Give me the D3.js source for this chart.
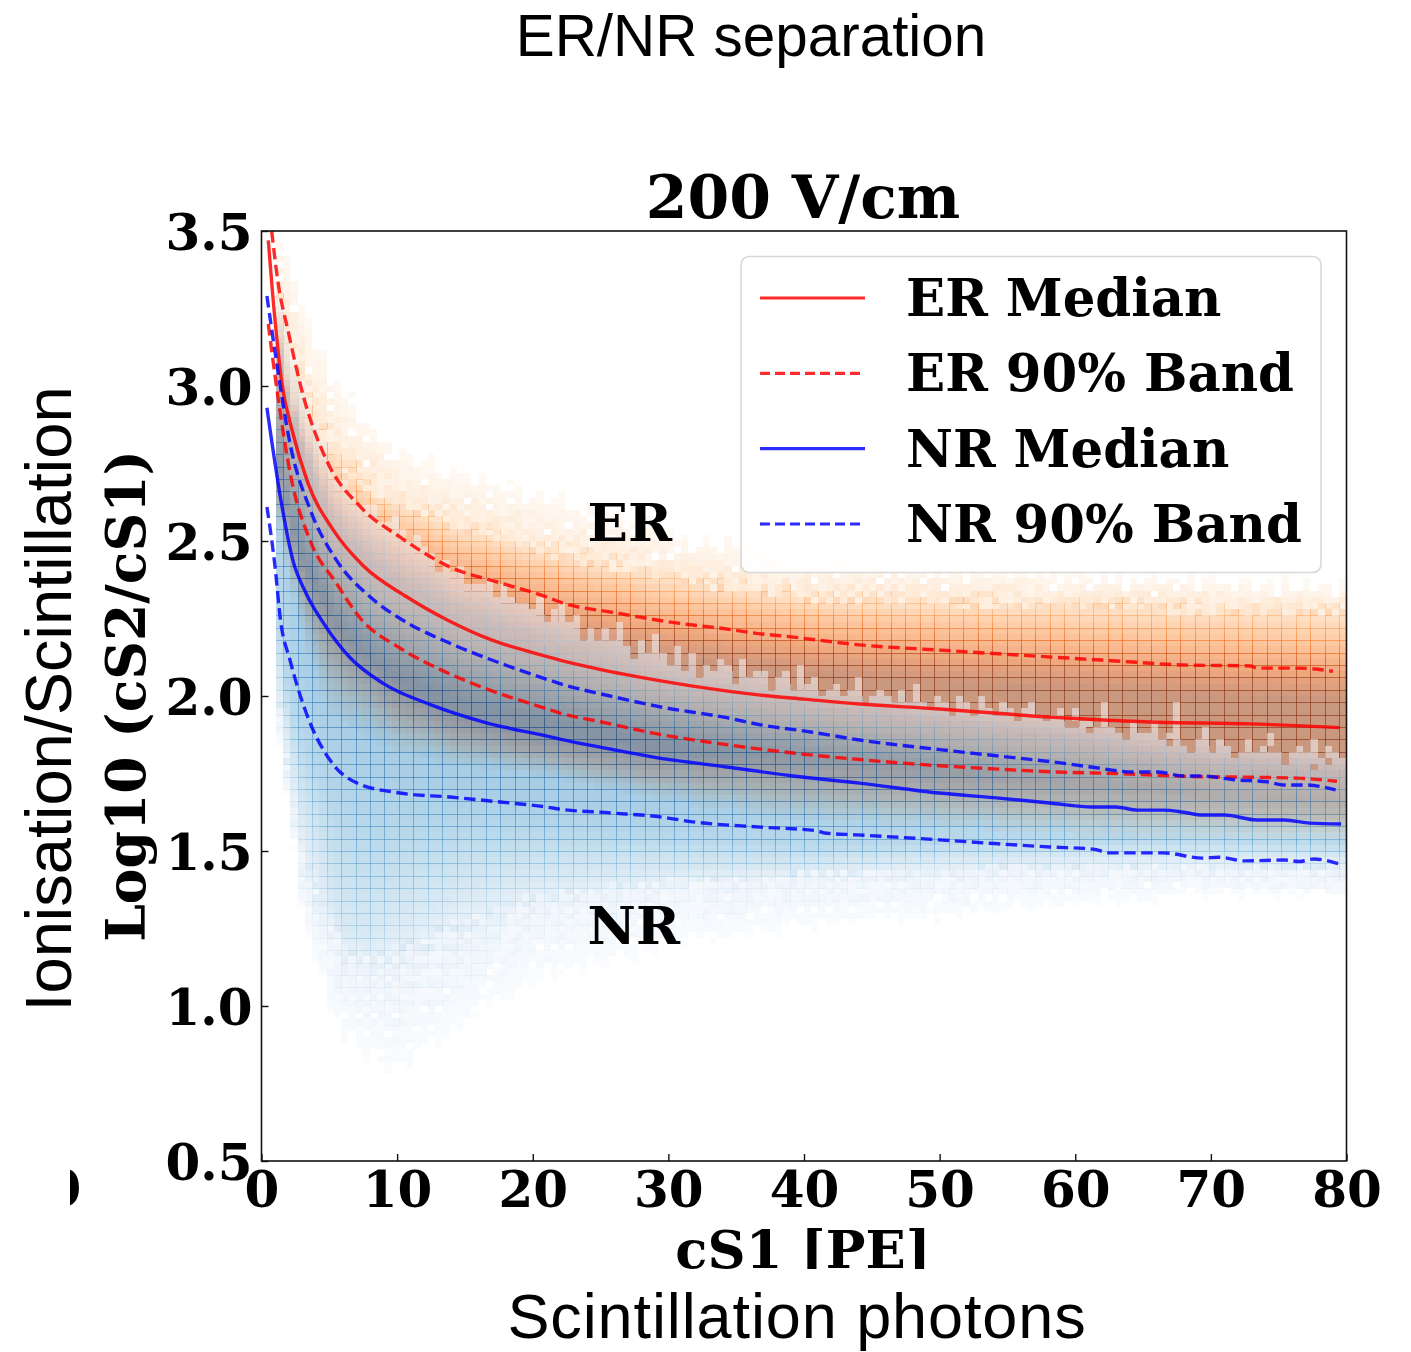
<!DOCTYPE html>
<html><head><meta charset="utf-8">
<style>html,body{margin:0;padding:0;background:#fff}svg{display:block}</style>
<script src="https://cdn.jsdelivr.net/npm/d3@7/dist/d3.min.js"></script></head>
<body><div id="chart"></div>
<script>
// ---- median and band curves: [cS1, log10(cS2/cS1)]
const erMedianX=[0.5,1,1.5,2.3,3.4,5.3,7.5,10.7,13.7,17,20,22,27,31.8,36.8,40,44.1,50,54,58.1,61,65.5,72.9,79.5];
const erMedianY=[3.47,3.21,3.01,2.85,2.69,2.535,2.42,2.32,2.245,2.18,2.14,2.116,2.068,2.032,2.003,1.99,1.974,1.958,1.945,1.932,1.925,1.916,1.91,1.898];
const erUpperX=[0.75,1.2,2,3.1,4.8,7.3,10.2,13.9,17.6,21,22.2,25.9,29.9,34.8,36,39.2,44.1,50,54,58.1,63,68,72.9,73.4,76.4,79];
const erUpperY=[3.5,3.34,3.17,2.965,2.76,2.61,2.513,2.416,2.365,2.32,2.30,2.27,2.24,2.213,2.205,2.19,2.165,2.148,2.137,2.126,2.113,2.10,2.097,2.09,2.09,2.08];
const erLowerX=[0.5,1.1,2.2,3.6,5.5,7.3,10.2,13.2,16.4,21.3,22,25,28.9,34.3,39.2,44.1,50,54,58.4,63,68.7,72.9,76.4,79.3];
const erLowerY=[3.2,3.0,2.70,2.50,2.365,2.25,2.155,2.085,2.026,1.955,1.945,1.917,1.88,1.843,1.816,1.795,1.775,1.765,1.755,1.75,1.74,1.738,1.735,1.725];
const nrUpperX=[0.4,1.1,2.1,3.6,5.5,8,10.4,13.9,17.6,21.3,22,25.7,29.4,34.3,36.8,40.5,44.1,50,54,58.4,61.3,64.3,66,68,69.4,71.7,74.2,75.4,77,79.2];
const nrUpperY=[3.29,3.08,2.815,2.60,2.44,2.32,2.245,2.17,2.106,2.05,2.04,2.0,1.965,1.93,1.907,1.884,1.858,1.827,1.808,1.787,1.77,1.755,1.755,1.742,1.742,1.73,1.723,1.713,1.713,1.697];
const nrMedianX=[0.4,1.4,2.3,3.3,4.5,6.5,9,12.6,16.4,21.3,22,25.7,28.9,34.3,39.2,44.1,50,54,58.1,61.3,63,64.6,66.5,68,69.4,71,73.4,75.4,77.3,79.6];
const nrMedianY=[2.93,2.64,2.44,2.33,2.24,2.125,2.04,1.97,1.916,1.868,1.861,1.829,1.803,1.771,1.742,1.719,1.687,1.672,1.655,1.642,1.642,1.632,1.632,1.625,1.616,1.616,1.60,1.60,1.59,1.587];
const nrLowerX=[0.4,1,1.4,2.1,3.3,5.1,7,10.2,13.9,17.6,21,22,25.7,29.4,31.8,36.8,41,41.5,43.9,50,54,58.1,61.3,62.6,66.5,69.4,70.6,72.5,75.4,76.5,77.6,79.5];
const nrLowerY=[2.61,2.416,2.245,2.116,1.945,1.79,1.72,1.687,1.674,1.658,1.642,1.635,1.623,1.61,1.594,1.577,1.565,1.558,1.552,1.536,1.524,1.513,1.506,1.494,1.494,1.477,1.48,1.468,1.471,1.466,1.474,1.458];

// ---- density contours (y of each shade, per cS1 anchor)
const erAnchors=[0.5,1,2,3,5,6.5,8,10,14,20,30,40,50,60,70,80];
const erEdgeTop=[3.5,3.5,3.4,3.25,3.05,2.95,2.87,2.79,2.72,2.65,2.52,2.45,2.41,2.39,2.37,2.35];
const erPaleTop=[3.45,3.35,3.15,3.0,2.82,2.74,2.68,2.64,2.57,2.49,2.40,2.33,2.32,2.31,2.30,2.29];
const erMidTop=[3.4,3.25,3.0,2.88,2.72,2.65,2.60,2.55,2.48,2.41,2.31,2.255,2.23,2.21,2.19,2.17];
const erCoreTop=[3.3,3.15,2.95,2.8,2.58,2.5,2.44,2.38,2.28,2.2,2.12,2.07,2.04,2.02,2.0,1.98];
const erCoreBot=[2.9,2.8,2.6,2.45,2.3,2.2,2.14,2.05,1.95,1.88,1.82,1.82,1.79,1.77,1.76,1.74];
const erMidBot=[2.8,2.7,2.5,2.32,2.12,2.05,2.0,1.93,1.86,1.81,1.73,1.69,1.66,1.64,1.62,1.6];
const erEdgeBot=[2.7,2.6,2.4,2.2,1.95,1.9,1.86,1.82,1.78,1.75,1.66,1.6,1.58,1.55,1.54,1.53];
const erShades=[0.02,0.5,0.93,0.93,0.47,0.22,0.02];

const nrAnchors=[0.5,1,2,3,4,5,6,8,10,15,20,30,40,50,60,70,80];
const nrEdgeBot=[2.05,1.95,1.65,1.3,1.15,1.0,0.9,0.84,0.79,0.95,1.08,1.2,1.26,1.29,1.33,1.36,1.35];
const nrTailBot=[2.2,2.0,1.7,1.4,1.3,1.2,1.13,1.1,1.1,1.2,1.3,1.38,1.41,1.42,1.43,1.43,1.42];
const nrPaleBot=[2.4,2.15,1.85,1.6,1.5,1.35,1.25,1.22,1.28,1.37,1.41,1.44,1.45,1.47,1.48,1.49,1.48];
const nrMidBot=[2.55,2.35,2.0,1.85,1.76,1.65,1.6,1.55,1.55,1.56,1.56,1.54,1.52,1.53,1.54,1.54,1.53];
const nrCoreBot=[2.7,2.6,2.3,2.1,2.0,1.92,1.88,1.8,1.75,1.7,1.66,1.62,1.6,1.59,1.57,1.55,1.54];
const nrCoreTop=[2.9,2.8,2.6,2.45,2.36,2.28,2.2,2.12,2.06,1.98,1.93,1.85,1.8,1.76,1.72,1.68,1.66];
const nrPaleTop=[3.2,3.1,2.9,2.75,2.62,2.52,2.47,2.38,2.33,2.22,2.16,2.04,1.97,1.92,1.86,1.79,1.76];
const nrEdgeTop=[3.3,3.35,3.15,3.0,2.88,2.75,2.68,2.6,2.55,2.38,2.30,2.13,2.04,1.98,1.93,1.85,1.81];
const nrCorePeak=[0.58,0.58,0.6,0.62,0.63,0.63,0.63,0.63,0.63,0.63,0.63,0.62,0.6,0.57,0.53,0.5,0.48];
const nrOuterShades=[0.015,0.12,0.3,0.48];

// jagged outer edges per histogram column, in bins
const erTopJag=[0,0,0,0,0,0,1,-2,2,-3,1,-1,3,-2,0,2,-1,1,-3,2,0,-2,1,3,-1,-3,2,0,1,-2,3,-1,0,-2,2,1,-3,0,2,-1,1,3,-2,0,-1,2,-3,1,0,2,-2,1,-1,3,0,-2,2,-1,1,-3,0,2,1,-2,3,-1,0,1,-2,2,-1,3,0,-3,1,2,-1,0,-2,1,3,-2,0,2,-1,1,-3,2,0,-1,2,1,-2,3,0,-1,1,-3,2,0,-2,1,3,-1,0,2,-2,1,-1,2,-3,0,3,1,-1,-2,2,0,1,-3,2,-1,0,3,-2,1,0,-1,2,-2,1,3,-1,0,-3,2,1,-2,0,1,-1,3,-2,0,2,-1,1,0,-2,2];
const nrTopJag=[0,0,0,0,0,0,0,0,0,0,0,1,0,-1,0,1,-1,0,1,0,-1,1,0,0,-1,1,0,1,-1,0,0,1,-1,1,0,-1,0,-1,1,-2,0,2,-1,1,-3,0,-2,1,-1,2,-1,-3,1,-1,3,0,-1,2,-2,1,-2,0,-1,1,0,-2,2,-1,0,1,-2,0,1,-1,3,0,1,-2,0,1,-1,0,2,-2,0,1,0,-1,1,-1,2,0,-1,1,0,-2,1,0,-1,2,0,-1,1,0,-2,1,2,0,-1,0,1,-2,1,0,0,-1,3,0,-1,-2,1,-1,0,2,-1,0,5,-1,-2,0,2,-1,1,0,-2,-1,1,-1,0,2,-1,-2,0,1,0,2,-1,1,0,-1,1,0];
const nrBotJag=[0,0,0,0,0,0,0,-1,1,-1,1,-1,1,0,-1,1,0,-1,1,0,-1,1,0,1,-1,0,1,-1,0,-1,1,0,1,0,-1,0,1,-1,0,1,-1,0,0,1,-1,1,0,-1,0,1,0,-1,1,0,-1,1,0,0,-1,1,0,1,-1,0,0,1,0,-1,1,0,0,-1,0,1,0,0,-1,1,0,0,1,-1,0,0,-1,1,0,1,-1,0,0,0,1,-1,0,0,-1,1,0,1,0,-1,0,0,1,0,-1,0,1,0,-1,1,0,0,0,-1,1,0,-1,0,1,0,0,-1,1,0,0,-1,1,0,-1,0,0,1,0,-1,1,0,0,0,-1,1,0,-1,0,0,1];
// isolated cells with no NR wash on top
const nrHolesX=[13.2,15.2,17.4,20.2,59.9,60.9,66.9,74.4,77.6,78.7];
const nrHolesY=[2.406,2.365,2.35,2.285,1.903,1.88,1.842,1.82,1.76,1.78];
// typed weave of fringe shades (0 = empty cell) for the sparsely filled outskirts
const fringeWeave="5270648319562047813694251708362951470386295417036825941760382964157028394617502839461705296381470592683741095628374906152738490615273849061725394806152749360815274936085172";

const xTicks=[0,10,20,30,40,50,60,70,80];
const yTicks=[0.5,1,1.5,2,2.5,3,3.5];
const legendLabels=["ER Median","ER 90% Band","NR Median","NR 90% Band"];
const legendColors=["#ff0000","#ff0000","#0000ff","#0000ff"];
const legendDashed=[false,true,false,true];
const nBinsX=150, nBinsY=150;

const W=1411,H=1352;
const serif="'DejaVu Serif',serif", sans="'Liberation Sans',Arial,sans-serif";
const svg=d3.select("#chart").append("svg").attr("width",W).attr("height",H);
const defs=svg.append("defs");
defs.append("clipPath").attr("id","plot").append("rect").attr("x",261.5).attr("y",231).attr("width",1085).attr("height",930);
defs.append("clipPath").attr("id","stub").append("rect").attr("x",70).attr("y",1160).attr("width",40).attr("height",60);
const blur=defs.append("filter").attr("id","soft").attr("x","0").attr("y","0").attr("width","100%").attr("height","100%");
blur.append("feGaussianBlur").attr("stdDeviation",0.5);

const x=d3.scaleLinear().domain([0,80]).range([261.5,1346.5]);
const y=d3.scaleLinear().domain([0.5,3.5]).range([1161,231]);

// histogram cells
const binX=80/nBinsX, binY=3/nBinsY;
function contourAt(tables,anchors,cx){return tables.map(t=>d3.scaleLinear().domain(anchors).range(t).clamp(true)(cx));}
const erTables=[erEdgeBot,erMidBot,erCoreBot,erCoreTop,erMidTop,erPaleTop,erEdgeTop];
const nrTables=[nrEdgeBot,nrTailBot,nrPaleBot,nrMidBot,nrCoreBot,nrCoreTop,nrPaleTop,nrEdgeTop];
const holes=new Set(nrHolesX.map((hx,k)=>Math.floor(hx/binX)+"_"+Math.floor((nrHolesY[k]-0.5)/binY)));
const weave=(i,j)=>+fringeWeave[(i*37+j*61)%fringeWeave.length]/5;
const jag=(a,i)=>a[i%a.length];
const peakAt=d3.scaleLinear().domain(nrAnchors).range(nrCorePeak).clamp(true);
const erCells=[],nrCells=[];
for(let i=0;i<nBinsX;i++){
  const cx=(i+0.5)*binX;
  if(cx<1.2) continue;
  const er=contourAt(erTables,erAnchors,cx), nr=contourAt(nrTables,nrAnchors,cx);
  const peak=peakAt(cx);
  const erS=d3.scaleLinear().domain(er).range(erShades);
  const nrS=d3.scaleLinear().domain(nr).range([...nrOuterShades,peak-0.06,peak,0.25,0.03]);
  const erTop=er[6]+jag(erTopJag,i)*binY*0.6, erBot=er[0];
  const nrTop=nr[7]+jag(nrTopJag,i)*binY, nrBot=nr[0]+jag(nrBotJag,i)*binY;
  for(let j=0;j<nBinsY;j++){
    const cy=0.5+(j+0.5)*binY;
    if(cy<=erTop&&cy>=erBot){
      let t=Math.max(0.015,erS(cy));
      if(cy>er[3]&&t<0.3){const m=weave(i,j); if(m===0&&t<0.16) t=0; else t=t*(0.55+0.45*m);}
      if(t>0) erCells.push({i,j,t});
    }
    if(cy<=nrTop&&cy>=nrBot&&!holes.has(i+"_"+j)){
      let t=Math.max(0.012,nrS(cy));
      if(cy<nr[3]&&t<0.22){const m=weave(j,i); if(m===0&&t<0.08) t=0; else t=t*(0.5+0.5*m);}
      if(t>0) nrCells.push({i,j,t});
    }
  }
}
const heat=svg.append("g").attr("clip-path","url(#plot)").append("g").attr("filter","url(#soft)");
const cellL=d=>Math.round(x(d.i*binX)), cellR=d=>Math.round(x((d.i+1)*binX));
const cellT=d=>Math.round(y((d.j+1)*binY+0.5)), cellB=d=>Math.round(y(d.j*binY+0.5));
function drawCells(cells,ramp,lineMin,lineGain,lineAlpha){
  const g=heat.append("g").attr("shape-rendering","crispEdges");
  g.selectAll("rect.cell").data(cells).join("rect").attr("class","cell")
    .attr("x",cellL).attr("y",cellT).attr("width",d=>cellR(d)-cellL(d)).attr("height",d=>cellB(d)-cellT(d))
    .attr("fill",d=>ramp(d.t)).attr("fill-opacity",0.5);
  // overdrawn cell edges show as the fine mesh
  g.selectAll("rect.v").data(cells.filter(d=>d.i%2==0&&d.t>lineMin)).join("rect").attr("class","v")
    .attr("x",cellR).attr("y",cellT).attr("width",1).attr("height",d=>cellB(d)-cellT(d))
    .attr("fill",d=>ramp(Math.min(1,d.t*lineGain))).attr("fill-opacity",lineAlpha);
  g.selectAll("rect.h").data(cells.filter(d=>d.j%2==0&&d.t>lineMin)).join("rect").attr("class","h")
    .attr("x",cellL).attr("y",cellB).attr("width",d=>cellR(d)-cellL(d)).attr("height",1)
    .attr("fill",d=>ramp(Math.min(1,d.t*lineGain))).attr("fill-opacity",lineAlpha);
}
drawCells(erCells,d3.interpolateOranges,0.25,1.3,0.55);
drawCells(nrCells,d3.interpolateBlues,0.07,1.4,0.5);

// curves
const line=d3.line().curve(d3.curveMonotoneX).x(d=>x(d[0])).y(d=>y(d[1]));
const curves=[[erUpperX,erUpperY,"#ff0000",true],[erLowerX,erLowerY,"#ff0000",true],[erMedianX,erMedianY,"#ff0000",false],
              [nrUpperX,nrUpperY,"#0000ff",true],[nrLowerX,nrLowerY,"#0000ff",true],[nrMedianX,nrMedianY,"#0000ff",false]];
const curveG=svg.append("g").attr("clip-path","url(#plot)");
curves.forEach(c=>{
  curveG.append("path").attr("d",line(d3.zip(c[0],c[1]))).attr("fill","none").attr("stroke",c[2])
    .attr("stroke-opacity",0.83).attr("stroke-width",3.4).attr("stroke-dasharray",c[3]?"11.5,5.5":null);
});

// frame and axes
svg.append("rect").attr("x",261.5).attr("y",231).attr("width",1085).attr("height",930).attr("fill","none").attr("stroke","#111").attr("stroke-width",1.6);
const ax=svg.append("g").attr("transform","translate(0,1161)").call(d3.axisBottom(x).tickValues(xTicks).tickSizeInner(-7).tickSizeOuter(0).tickPadding(19).tickFormat(d3.format("d")));
const ay=svg.append("g").attr("transform","translate(261.5,0)").call(d3.axisLeft(y).tickValues(yTicks).tickSizeInner(-7).tickSizeOuter(0).tickPadding(9).tickFormat(d3.format(".1f")));
[ax,ay].forEach(a=>{a.select(".domain").remove();a.selectAll("line").attr("stroke","#111").attr("stroke-width",1.4);
  a.selectAll("text").attr("font-family",serif).attr("font-weight","bold").attr("font-size",50).attr("fill","#000");});
ax.selectAll("text").attr("dy",null).attr("y",46);
ay.selectAll("text").attr("dy","0.37em");

// labels
function label(g,txt,px,py,fam,size,weight,rot,anchor){
  return g.append("text").attr("transform",`translate(${px},${py})`+(rot?` rotate(${rot})`:"")).attr("text-anchor",anchor||"middle")
   .attr("font-family",fam).attr("font-size",size).attr("font-weight",weight).attr("fill","#000").text(txt);
}
label(svg,"200 V/cm",803,218,serif,60,"bold");
label(svg,"ER",587.5,541,serif,53,"bold",0,"start");
label(svg,"NR",587.5,944,serif,53,"bold",0,"start");
label(svg,"cS1 [PE]",803,1268,serif,52.8,"bold");
label(svg,"Log10 (cS2/cS1)",145,696,serif,53.6,"bold",-90);
label(svg.append("g").attr("clip-path","url(#stub)"),"0",64,1206,serif,50,"bold");
svg.append("rect").attr("x",400).attr("y",1269).attr("width",800).attr("height",83).attr("fill","#fff");
label(svg,"ER/NR separation",751,56,sans,58.4,"normal");
label(svg,"Scintillation photons",797,1338,sans,63,"normal").attr("letter-spacing",0.9);
label(svg,"Ionisation/Scintillation",71,699,sans,65,"normal",-90);

// legend
const lg=svg.append("g");
lg.append("rect").attr("x",741).attr("y",256.5).attr("width",580).attr("height",316).attr("rx",8)
  .attr("fill","#fff").attr("fill-opacity",0.85).attr("stroke","#d8d8d8").attr("stroke-width",1.6);
const rowY=d3.scalePoint().domain(legendLabels).range([298,524]);
legendLabels.forEach((t,k)=>{
  lg.append("line").attr("x1",760).attr("x2",865).attr("y1",rowY(t)).attr("y2",rowY(t)).attr("stroke",legendColors[k])
    .attr("stroke-opacity",0.83).attr("stroke-width",3.2).attr("stroke-dasharray",legendDashed[k]?"10,5":null);
  label(lg,t,906,rowY(t)+18,serif,51.4,"bold",0,"start");
});
</script></body></html>
